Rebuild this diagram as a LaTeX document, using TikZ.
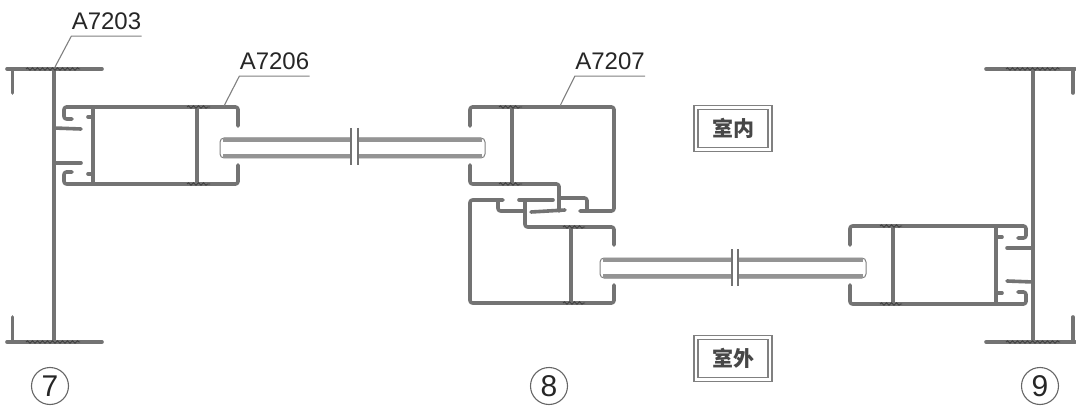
\documentclass[tikz,border=0pt]{standalone}
\usepackage{fontspec}
\setmainfont{Liberation Sans}
\newfontfamily\cjk{Noto Sans CJK SC}
\usetikzlibrary{decorations.pathmorphing}
\begin{document}
\begin{tikzpicture}[x=1pt,y=-1pt,
  profile/.style={draw=black!55,line width=3.6pt,line cap=round,line join=round,rounded corners=2.5pt},
  pane/.style={draw=black!42,line width=4.5pt},
  paneedge/.style={draw=black!50,line width=1pt,rounded corners=4pt},
  rib/.style={draw=black!75,line width=.9pt,decorate,decoration={snake,amplitude=1.2pt,segment length=5pt}},
  cutline/.style={draw=black!55,line width=1.1pt},
  partno/.style={inner sep=0pt,minimum width=70pt,minimum height=30pt,font=\fontsize{24}{24}\selectfont,text=black!85},
  leader/.style={draw=black!50,line width=1.1pt},
  gridmark/.style={draw=black!60,circle,line width=1.1pt,minimum size=37pt,inner sep=0pt,font=\fontsize{30}{30}\selectfont,text=black!85},
  roombox/.style={draw=black!50,line width=1.3pt,double=white,double distance=2.8pt,minimum width=74pt,minimum height=42pt,inner sep=0pt,font=\cjk\bfseries\fontsize{21}{21}\selectfont,text=black!72}]
\useasboundingbox (0,0) rectangle (1076,406);

% left mullion
\draw[profile] (12.5,93) -- (12.5,69);
\draw[profile] (7,69) -- (102,69);
\draw[profile] (12.5,317) -- (12.5,342);
\draw[profile] (7,342) -- (102,342);
\draw[profile] (54,69) -- (54,342);
\draw[profile] (54,128) -- (81,129);
\draw[profile] (54,163) -- (81,163);
\draw[rib] (26,69) -- (80,69);
\draw[rib] (26,342) -- (80,342);

% left frame
\draw[profile] (72,119) -- (64,119) -- (64,107) -- (238,107) -- (238,126);
\draw[profile] (72,172) -- (64,172) -- (64,184) -- (238,184) -- (238,165);
\draw[profile] (93,107) -- (93,184);
\draw[profile] (197,107) -- (197,184);
\draw[profile] (88,117) -- (93,117);
\draw[profile] (88,174) -- (93,174);
\draw[rib] (187,107) -- (210,107);
\draw[rib] (187,184) -- (210,184);

% glass 1
\draw[paneedge] (351,138) -- (220,138) -- (220,158) -- (351,158);
\draw[paneedge] (358,138) -- (485,138) -- (485,158) -- (358,158);
\draw[pane] (223,140) -- (351,140);
\draw[pane] (223,156) -- (351,156);
\draw[pane] (358,140) -- (482,140);
\draw[pane] (358,156) -- (482,156);
\draw[cutline] (351,128) -- (351,165);
\draw[cutline] (358,128) -- (358,165);

% middle upper frame
\draw[profile] (470,126) -- (470,107) -- (614,107) -- (614,211) -- (580,211);
\draw[profile] (470,165) -- (470,184) -- (559,184) -- (559,211);
\draw[profile] (531,212) -- (565,210);
\draw[profile] (512,107) -- (512,184);
\draw[profile] (559,198) -- (587,198) -- (587,211);
\draw[rib] (499,107) -- (522,107);
\draw[rib] (499,184) -- (522,184);

% middle lower frame
\draw[profile] (503,200) -- (470,200) -- (470,303) -- (614,303) -- (614,285);
\draw[profile] (498,200) -- (498,211) -- (525,211);
\draw[profile] (519,200) -- (553,200);
\draw[profile] (525,200) -- (525,227) -- (614,227) -- (614,245);
\draw[profile] (571,227) -- (571,303);
\draw[rib] (563,227) -- (585,227);
\draw[rib] (563,303) -- (585,303);

% glass 2
\draw[paneedge] (732,258) -- (600,258) -- (600,278) -- (732,278);
\draw[paneedge] (738,258) -- (866,258) -- (866,278) -- (738,278);
\draw[pane] (603,260) -- (732,260);
\draw[pane] (603,276) -- (732,276);
\draw[pane] (738,260) -- (863,260);
\draw[pane] (738,276) -- (863,276);
\draw[cutline] (732,249) -- (732,286);
\draw[cutline] (738,249) -- (738,286);

% right frame
\draw[profile] (850,245) -- (850,226) -- (1026,226) -- (1026,238) -- (1018,238);
\draw[profile] (850,285) -- (850,304) -- (1026,304) -- (1026,292) -- (1018,292);
\draw[profile] (893,226) -- (893,304);
\draw[profile] (996,226) -- (996,304);
\draw[profile] (996,237) -- (1002,237);
\draw[profile] (996,293) -- (1002,293);
\draw[rib] (880,226) -- (902,226);
\draw[rib] (880,304) -- (902,304);

% right mullion
\draw[profile] (1073,93) -- (1073,69);
\draw[profile] (986,69) -- (1075,69);
\draw[profile] (1073,317) -- (1073,342);
\draw[profile] (986,342) -- (1075,342);
\draw[profile] (1033,69) -- (1033,342);
\draw[profile] (1033,248) -- (1007,248);
\draw[profile] (1033,282) -- (1007,281);
\draw[rib] (1006,69) -- (1060,69);
\draw[rib] (1006,342) -- (1060,342);

% part numbers
\coordinate (p1) at (55,67);
\coordinate (p2) at (224,106);
\coordinate (p3) at (560,106);
\node[partno] (n1) at (106.5,21) {A7203};
\node[partno] (n2) at (274.5,61) {A7206};
\node[partno] (n3) at (610,61) {A7207};
\draw[leader] (n1.south east) -- (n1.south west) -- (p1);
\draw[leader] (n2.south east) -- (n2.south west) -- (p2);
\draw[leader] (n3.south east) -- (n3.south west) -- (p3);

\node[roombox] (r1) at (733,128.5) {室内};
\node[roombox] (r2) at (733,358.5) {室外};

\node[gridmark] (m7) at (50,386) {7};
\node[gridmark] (m8) at (549,386) {8};
\node[gridmark] (m9) at (1040,386) {9};
\end{tikzpicture}
\end{document}
